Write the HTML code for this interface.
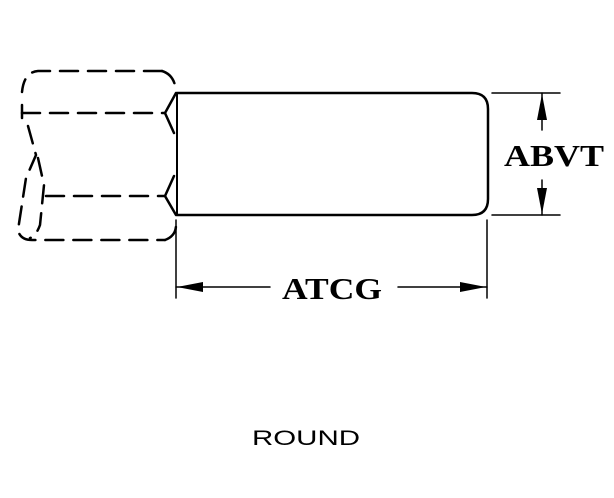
<!DOCTYPE html>
<html><head><style>
html,body{margin:0;padding:0;background:#fff;width:614px;height:498px;overflow:hidden}
svg{display:block}
</style></head><body>
<svg width="614" height="498" viewBox="0 0 614 498" xmlns="http://www.w3.org/2000/svg">
<g fill="none" stroke="#000" stroke-width="2.5" stroke-linecap="round">
<path d="M177 93 H472 Q488 93 488 109 V199 Q488 215 472 215 H177"/>
<path d="M177 93 V215" stroke-width="2"/>
<g stroke-dasharray="18,10">
<path d="M162 71 H38 Q24 72 22 92"/>
<path d="M162 71 Q175 75 176 92"/>
<path d="M22 105 L22 118"/>
<path d="M28 126 L36 155 L26 178 L18 230 Q20 240 32 240 H165"/>
<path d="M38 158 L44 185 L40 225 Q36 236 30 238"/>
<path d="M22 113 H165"/>
<path d="M46 196 H165"/>
<path d="M165 240 Q176 236 176 225"/>
</g>
<path d="M176 93 L165 113 L174 133"/>
<path d="M174 176 L165 196 L176 215"/>
<g stroke-width="1.5">
<line x1="492" y1="93" x2="560" y2="93"/>
<line x1="492" y1="215" x2="560" y2="215"/>
<line x1="542" y1="93" x2="542" y2="130"/>
<line x1="542" y1="180" x2="542" y2="215"/>
<line x1="176" y1="220" x2="176" y2="298"/>
<line x1="487" y1="220" x2="487" y2="298"/>
<line x1="176" y1="287" x2="270" y2="287"/>
<line x1="398" y1="287" x2="487" y2="287"/>
</g>
</g>
<g fill="#000">
<polygon points="542,94 537,120 547,120"/>
<polygon points="542,214 537,188 547,188"/>
<polygon points="177,287 203,282 203,292"/>
<polygon points="486,287 460,282 460,292"/>
</g>
<g font-family="'Liberation Serif',serif" font-weight="bold" fill="#000">
<text x="504" y="166" font-size="31" textLength="100" lengthAdjust="spacingAndGlyphs">ABVT</text>
<text x="282" y="299" font-size="31" textLength="100" lengthAdjust="spacingAndGlyphs">ATCG</text>
</g>
<text x="252" y="445" font-family="'Liberation Sans',sans-serif" font-size="21" fill="#000" textLength="108" lengthAdjust="spacingAndGlyphs">ROUND</text>
</svg>
</body></html>
